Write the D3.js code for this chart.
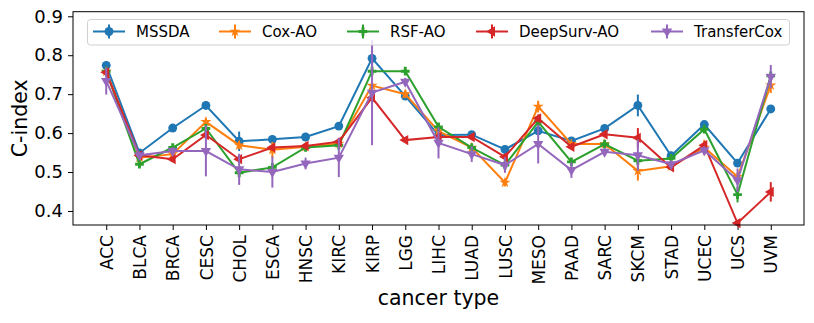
<!DOCTYPE html>
<html>
<head>
<meta charset="utf-8">
<script src="https://cdn.jsdelivr.net/npm/d3@7"></script>
<style>
  body { margin: 0; background: #fff; }
  svg text { font-family: "DejaVu Sans", sans-serif; }
</style>
</head>
<body>
<svg id="chart" width="814" height="323"></svg>
<script>
// Data
const cancerTypes = ["ACC", "BLCA", "BRCA", "CESC", "CHOL", "ESCA", "HNSC", "KIRC", "KIRP", "LGG",
    "LIHC", "LUAD", "LUSC", "MESO", "PAAD", "SARC", "SKCM", "STAD", "UCEC", "UCS", "UVM"];

const mssdaValues = [0.774, 0.549, 0.613, 0.671, 0.579, 0.584, 0.590, 0.618, 0.792, 0.695,
    0.595, 0.596, 0.558, 0.606, 0.580, 0.612, 0.671, 0.542, 0.622, 0.523, 0.662];
const mssdaErr = [0.01, 0.005, 0.005, 0.005, 0.025, 0.01, 0.005, 0.005, 0.02, 0.01,
    0.005, 0.005, 0.01, 0.01, 0.005, 0.005, 0.028, 0.01, 0.005, 0.01, 0.005];

const coxValues = [0.758, 0.537, 0.546, 0.629, 0.569, 0.557, 0.565, 0.573, 0.722, 0.700,
    0.605, 0.563, 0.473, 0.668, 0.572, 0.572, 0.503, 0.515, 0.563, 0.488, 0.723];
const coxErr = [0.01, 0.005, 0.005, 0.01, 0.01, 0.02, 0.005, 0.005, 0.01, 0.01,
    0.005, 0.005, 0.01, 0.015, 0.005, 0.005, 0.025, 0.005, 0.02, 0.01, 0.02];

const rsfValues = [0.759, 0.520, 0.563, 0.612, 0.498, 0.512, 0.563, 0.569, 0.759, 0.759,
    0.616, 0.563, 0.518, 0.629, 0.526, 0.572, 0.529, 0.535, 0.610, 0.442, 0.747];
const rsfErr = [0.01, 0.005, 0.005, 0.01, 0.01, 0.005, 0.005, 0.005, 0.01, 0.005,
    0.005, 0.005, 0.005, 0.01, 0.005, 0.005, 0.01, 0.005, 0.01, 0.02, 0.01];

const deepSurvValues = [0.756, 0.543, 0.533, 0.595, 0.533, 0.563, 0.567, 0.578, 0.691, 0.582,
    0.590, 0.590, 0.539, 0.638, 0.565, 0.597, 0.588, 0.512, 0.569, 0.369, 0.449];
const deepSurvErr = [0.01, 0.005, 0.005, 0.01, 0.01, 0.005, 0.005, 0.01, 0.01, 0.005,
    0.005, 0.005, 0.005, 0.01, 0.005, 0.005, 0.025, 0.005, 0.01, 0.005, 0.025];

const transferValues = [0.734, 0.543, 0.554, 0.554, 0.507, 0.500, 0.522, 0.537, 0.704, 0.732,
    0.575, 0.546, 0.518, 0.572, 0.505, 0.552, 0.543, 0.520, 0.556, 0.479, 0.745];
const transferErr = [0.035, 0.005, 0.01, 0.065, 0.04, 0.04, 0.015, 0.05, 0.135, 0.01,
    0.04, 0.02, 0.02, 0.05, 0.02, 0.01, 0.04, 0.01, 0.01, 0.03, 0.03];

const yTicks = [0.4, 0.5, 0.6, 0.7, 0.8, 0.9];

const seriesList = [
    { name: "MSSDA", values: mssdaValues, err: mssdaErr, color: "#1f77b4", symbol: d3.symbolCircle, size: 62, rotate: 0 },
    { name: "Cox-AO", values: coxValues, err: coxErr, color: "#ff7f0e", symbol: d3.symbolStar, size: 38, rotate: 0 },
    { name: "RSF-AO", values: rsfValues, err: rsfErr, color: "#2ca02c", symbol: d3.symbolCross, size: 42, rotate: 0 },
    { name: "DeepSurv-AO", values: deepSurvValues, err: deepSurvErr, color: "#d62728", symbol: d3.symbolTriangle, size: 46, rotate: -90 },
    { name: "TransferCox", values: transferValues, err: transferErr, color: "#9467bd", symbol: d3.symbolTriangle, size: 46, rotate: 180 }
];

// Layout
const plot = { left: 73, right: 804, top: 11.7, bottom: 225 };
const svg = d3.select("#chart");

const xScale = d3.scalePoint().domain(cancerTypes).range([plot.left, plot.right]).padding(1);
const yScale = d3.scaleLinear().domain([0.364, 0.9118]).range([plot.bottom, plot.top]);

// Axes
svg.append("g")
    .attr("transform", `translate(0, ${plot.bottom})`)
    .call(d3.axisBottom(xScale).tickSize(5).tickPadding(5))
    .call(g => g.select(".domain").remove())
    .call(g => g.selectAll("line").attr("stroke", "#000").attr("stroke-width", 1))
    .selectAll("text")
    .attr("transform", "rotate(-90)")
    .attr("x", -10)
    .attr("y", 0)
    .attr("dy", "0.36em")
    .style("text-anchor", "end")
    .style("font-size", "17px")
    .attr("fill", "#000");

svg.append("g")
    .attr("transform", `translate(${plot.left}, 0)`)
    .call(d3.axisLeft(yScale).tickValues(yTicks).tickFormat(d3.format(".1f")).tickSize(5).tickPadding(5))
    .call(g => g.select(".domain").remove())
    .call(g => g.selectAll("line").attr("stroke", "#000").attr("stroke-width", 1))
    .selectAll("text")
    .style("font-size", "18px")
    .attr("fill", "#000");

// Axis labels
svg.append("text")
    .attr("x", (plot.left + plot.right) / 2)
    .attr("y", 305)
    .attr("text-anchor", "middle")
    .style("font-size", "20.5px")
    .text("cancer type");

svg.append("text")
    .attr("transform", `translate(27, ${(plot.top + plot.bottom) / 2}) rotate(-90)`)
    .attr("text-anchor", "middle")
    .style("font-size", "20.5px")
    .text("C-index");

// Series
const line = d3.line()
    .x((d, i) => xScale(cancerTypes[i]))
    .y(d => yScale(d));

seriesList.forEach(s => {
    const g = svg.append("g").attr("class", "series");

    g.selectAll(".err")
        .data(s.values)
        .enter().append("line")
        .attr("x1", (d, i) => xScale(cancerTypes[i]))
        .attr("x2", (d, i) => xScale(cancerTypes[i]))
        .attr("y1", (d, i) => yScale(d - s.err[i]))
        .attr("y2", (d, i) => yScale(d + s.err[i]))
        .attr("stroke", s.color)
        .attr("stroke-width", 2);

    g.append("path")
        .attr("d", line(s.values))
        .attr("fill", "none")
        .attr("stroke", s.color)
        .attr("stroke-width", 2);

    g.selectAll(".marker")
        .data(s.values)
        .enter().append("path")
        .attr("d", d3.symbol().type(s.symbol).size(s.size))
        .attr("transform", (d, i) => `translate(${xScale(cancerTypes[i])}, ${yScale(d)}) rotate(${s.rotate})`)
        .attr("fill", s.color);
});

// Frame
svg.append("rect")
    .attr("x", plot.left)
    .attr("y", plot.top)
    .attr("width", plot.right - plot.left)
    .attr("height", plot.bottom - plot.top)
    .attr("fill", "none")
    .attr("stroke", "#000")
    .attr("stroke-width", 1);

// Legend
const legendX = [93, 219, 347, 476, 651];
const legend = svg.append("g").attr("class", "legend");

legend.append("rect")
    .attr("x", 87.5)
    .attr("y", 19.5)
    .attr("width", 702)
    .attr("height", 25.5)
    .attr("rx", 3)
    .attr("fill", "rgba(255,255,255,0.8)")
    .attr("stroke", "#d0d0d0")
    .attr("stroke-width", 1);

const legendItems = legend.selectAll(".legend-item")
    .data(seriesList)
    .enter().append("g")
    .attr("class", "legend-item")
    .attr("transform", (d, i) => `translate(${legendX[i]}, 31.5)`);

legendItems.append("line")
    .attr("x1", 0).attr("x2", 32)
    .attr("stroke", d => d.color)
    .attr("stroke-width", 2);

legendItems.append("line")
    .attr("x1", 16).attr("x2", 16)
    .attr("y1", -7).attr("y2", 7)
    .attr("stroke", d => d.color)
    .attr("stroke-width", 2);

legendItems.append("path")
    .attr("d", d => d3.symbol().type(d.symbol).size(d.size)())
    .attr("transform", d => `translate(16, 0) rotate(${d.rotate})`)
    .attr("fill", d => d.color);

legendItems.append("text")
    .attr("x", 43)
    .attr("dy", "0.36em")
    .style("font-size", "15px")
    .attr("fill", "#000")
    .text(d => d.name);
</script>
</body>
</html>
